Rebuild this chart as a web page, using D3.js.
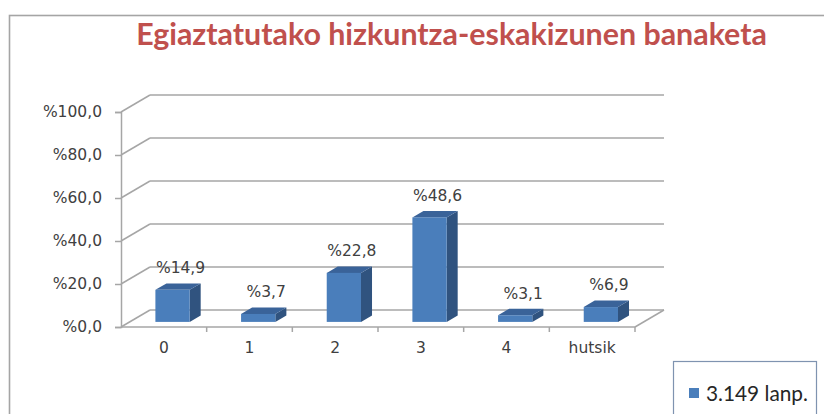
<!DOCTYPE html>
<html>
<head>
<meta charset="utf-8">
<script src="https://cdn.jsdelivr.net/npm/d3@7"></script>
<style>
  html, body { margin: 0; padding: 0; background: #ffffff; }
  svg { display: block; }
</style>
</head>
<body>
<svg id="chart" width="824" height="414"></svg>
<script>
// ---- data ----
const title = "Egiaztatutako hizkuntza-eskakizunen banaketa";
const categories = ["0", "1", "2", "3", "4", "hutsik"];
const values = [14.9, 3.7, 22.8, 48.6, 3.1, 6.9];
const valueLabels = ["%14,9", "%3,7", "%22,8", "%48,6", "%3,1", "%6,9"];
const yTicks = [0, 20, 40, 60, 80, 100];
const yTickLabels = ["%0,0", "%20,0", "%40,0", "%60,0", "%80,0", "%100,0"];
const seriesName = "3.149 lanp.";

// ---- layout ----
const svg = d3.select("#chart");
const W = 824, H = 414;
const plot = { left: 121, right: 635, top: 112, bottom: 327 };
const depth = { dx: 29, dy: -17 };
const barZ0 = 0.3, barZ1 = 0.68;
const gridColor = "#a6a6a6";
const textColor = "#404040";
const faceColor = "#4a7ebb", sideColor = "#30537f", topColor = "#3a6399";
const axisFont = "'DejaVu Sans', Verdana, sans-serif";

const x = d3.scaleBand().domain(categories).range([plot.left, plot.right]);
const y = d3.scaleLinear().domain([0, 100]).range([plot.bottom, plot.top]);
const proj = (px, py, z) => [px + z * depth.dx, py + z * depth.dy];

// outer frame
svg.append("rect")
  .attr("x", 9.5).attr("y", 15.5).attr("width", W + 20).attr("height", H + 20)
  .attr("fill", "#fff").attr("stroke", "#a5a5a5").attr("stroke-width", 1.6);

// title
const t = svg.append("text")
  .attr("x", 451.5).attr("y", 45)
  .attr("text-anchor", "middle")
  .attr("font-family", "Lato, 'Open Sans', sans-serif")
  .attr("font-weight", "bold")
  .attr("font-size", 28)
  .attr("fill", "#c0504d")
  .text(title);
const tw = t.node().getComputedTextLength();
t.attr("font-size", 28 * 631 / tw);

// back wall gridlines + depth diagonals
const g = svg.append("g");
yTicks.forEach(v => {
  const [bx, by] = proj(plot.left, y(v), 1);
  const [ex] = proj(plot.right, y(v), 1);
  g.append("line").attr("x1", plot.left).attr("y1", y(v)).attr("x2", bx).attr("y2", by)
    .attr("stroke", gridColor).attr("stroke-width", 1.5);
  g.append("line").attr("x1", bx).attr("y1", by).attr("x2", ex).attr("y2", by)
    .attr("stroke", gridColor).attr("stroke-width", 1.5);
});
// floor right edge
{
  const [ex, ey] = proj(plot.right, y(0), 1);
  g.append("line").attr("x1", plot.right).attr("y1", y(0)).attr("x2", ex).attr("y2", ey)
    .attr("stroke", gridColor).attr("stroke-width", 1.5);
}

// y axis
const yAxis = d3.axisLeft(y).tickValues(yTicks)
  .tickFormat((d, i) => yTickLabels[i]).tickSize(6).tickPadding(13);
const ya = svg.append("g").attr("transform", `translate(${plot.left},0)`).call(yAxis);
ya.select(".domain").attr("stroke", gridColor).attr("stroke-width", 1.5);
ya.selectAll(".tick line").attr("stroke", gridColor).attr("stroke-width", 1.5);
ya.selectAll(".tick text").attr("font-family", axisFont).attr("font-size", 15.5)
  .attr("fill", textColor);

// x axis: line, boundary ticks, centered labels
const xa = svg.append("g");
xa.append("line").attr("x1", plot.left).attr("x2", plot.right)
  .attr("y1", y(0)).attr("y2", y(0)).attr("stroke", gridColor).attr("stroke-width", 1.5);
categories.forEach(c => {
  const bx = x(c) + x.bandwidth();
  xa.append("line").attr("x1", bx).attr("x2", bx).attr("y1", y(0)).attr("y2", y(0) + 5)
    .attr("stroke", gridColor).attr("stroke-width", 1.5);
  xa.append("text").attr("x", x(c) + x.bandwidth() / 2).attr("y", y(0) + 21)
    .attr("dy", "0.35em").attr("text-anchor", "middle")
    .attr("font-family", axisFont).attr("font-size", 15.5).attr("fill", textColor)
    .text(c);
});

// bars (3D boxes)
const bw = x.bandwidth() * 0.4;
const bars = svg.append("g");
categories.forEach((c, i) => {
  const cx = x(c) + x.bandwidth() / 2;
  const x0 = cx - bw / 2, x1 = cx + bw / 2;
  const yb = y(0), yt = y(values[i]);
  const P = (px, py, z) => proj(px, py, z).join(",");
  // side
  bars.append("polygon")
    .attr("points", [P(x1, yb, barZ0), P(x1, yb, barZ1), P(x1, yt, barZ1), P(x1, yt, barZ0)].join(" "))
    .attr("fill", sideColor);
  // top
  bars.append("polygon")
    .attr("points", [P(x0, yt, barZ0), P(x1, yt, barZ0), P(x1, yt, barZ1), P(x0, yt, barZ1)].join(" "))
    .attr("fill", topColor);
  // front
  const [fx, fy] = proj(x0, yt, barZ0);
  bars.append("rect").attr("x", fx).attr("y", fy).attr("width", bw).attr("height", yb - yt)
    .attr("fill", faceColor);
  // label
  bars.append("text").attr("x", fx + bw / 2 + 8).attr("y", fy - 22).attr("dy", "0.35em")
    .attr("text-anchor", "middle").attr("font-family", axisFont).attr("font-size", 15.5)
    .attr("fill", textColor).text(valueLabels[i]);
});

// legend
const lg = svg.append("g");
lg.append("rect").attr("x", 673.5).attr("y", 361.5).attr("width", 143).attr("height", 80)
  .attr("fill", "#fff").attr("stroke", "#7f93b0").attr("stroke-width", 1.2);
lg.append("rect").attr("x", 689).attr("y", 388).attr("width", 10).attr("height", 10)
  .attr("fill", faceColor);
const lt = lg.append("text").attr("x", 706).attr("y", 394).attr("dy", "0.35em")
  .attr("font-family", "Lato, 'Open Sans', sans-serif").attr("font-size", 19)
  .attr("fill", "#262626").text(seriesName);
const lw = lt.node().getComputedTextLength();
lt.attr("font-size", 19 * 102 / lw);
</script>
</body>
</html>
